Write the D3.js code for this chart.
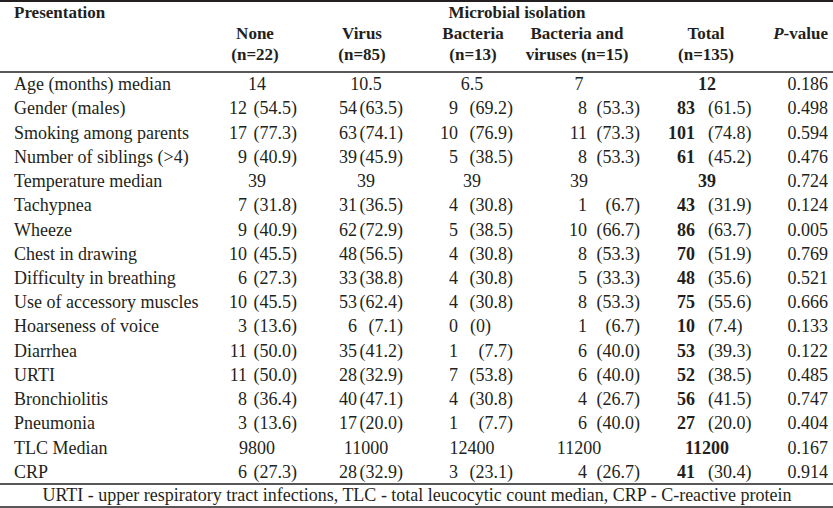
<!DOCTYPE html>
<html>
<head>
<meta charset="utf-8">
<script src="https://cdn.jsdelivr.net/npm/d3@7"></script>
<style>
  html, body { margin: 0; padding: 0; background: #fff; }
  svg { display: block; }
  text { font-family: "Liberation Serif", "Times New Roman", serif; fill: #231f20; }
</style>
</head>
<body>
<svg id="chart" width="833" height="508"></svg>
<script>
// ---------------- DATA ----------------
const rowLabels = [
  "Age (months) median", "Gender (males)", "Smoking among parents", "Number of siblings (>4)",
  "Temperature median", "Tachypnea", "Wheeze", "Chest in drawing", "Difficulty in breathing",
  "Use of accessory muscles", "Hoarseness of voice", "Diarrhea", "URTI", "Bronchiolitis",
  "Pneumonia", "TLC Median", "CRP"
];
// median rows have no percentage (null)
const noneN    = ["14", "12", "17", "9", "39", "7", "9", "10", "6", "10", "3", "11", "11", "8", "3", "9800", "6"];
const nonePct  = [null, "54.5", "77.3", "40.9", null, "31.8", "40.9", "45.5", "27.3", "45.5", "13.6", "50.0", "50.0", "36.4", "13.6", null, "27.3"];
const virusN   = ["10.5", "54", "63", "39", "39", "31", "62", "48", "33", "53", "6", "35", "28", "40", "17", "11000", "28"];
const virusPct = [null, "63.5", "74.1", "45.9", null, "36.5", "72.9", "56.5", "38.8", "62.4", "7.1", "41.2", "32.9", "47.1", "20.0", null, "32.9"];
const bactN    = ["6.5", "9", "10", "5", "39", "4", "5", "4", "4", "4", "0", "1", "7", "4", "1", "12400", "3"];
const bactPct  = [null, "69.2", "76.9", "38.5", null, "30.8", "38.5", "30.8", "30.8", "30.8", "0", "7.7", "53.8", "30.8", "7.7", null, "23.1"];
const bothN    = ["7", "8", "11", "8", "39", "1", "10", "8", "5", "8", "1", "6", "6", "4", "6", "11200", "4"];
const bothPct  = [null, "53.3", "73.3", "53.3", null, "6.7", "66.7", "53.3", "33.3", "53.3", "6.7", "40.0", "40.0", "26.7", "40.0", null, "26.7"];
const totalN   = ["12", "83", "101", "61", "39", "43", "86", "70", "48", "75", "10", "53", "52", "56", "27", "11200", "41"];
const totalPct = [null, "61.5", "74.8", "45.2", null, "31.9", "63.7", "51.9", "35.6", "55.6", "7.4", "39.3", "38.5", "41.5", "20.0", null, "30.4"];
const pValues  = ["0.186", "0.498", "0.594", "0.476", "0.724", "0.124", "0.005", "0.769", "0.521", "0.666", "0.133", "0.122", "0.485", "0.747", "0.404", "0.167", "0.914"];

const groupNames  = ["None", "Virus", "Bacteria", "Bacteria and", "Total"];
const groupSizes  = ["(n=22)", "(n=85)", "(n=13)", "viruses (n=15)", "(n=135)"];
const stubTitle   = "Presentation";
const spanTitle   = "Microbial isolation";
const footnote    = "URTI - upper respiratory tract infections, TLC - total leucocytic count median, CRP - C-reactive protein";

// ---------------- LAYOUT ----------------
const W = 833, H = 508;
const svg = d3.select("#chart");
const fs = 18, hfs = 17;

const groups = [
  { key: "none",  n: noneN,  pct: nonePct,  center: 257, countRight: 247, pctRight: 297, pctAlign: "end" },
  { key: "virus", n: virusN, pct: virusPct, center: 366, countRight: 357, pctRight: 403, pctAlign: "end" },
  { key: "bact",  n: bactN,  pct: bactPct,  center: 472, countRight: 458, pctRight: 513, pctAlign: "end" },
  { key: "both",  n: bothN,  pct: bothPct,  center: 579, countRight: 587, pctRight: 640, pctAlign: "end" },
  { key: "total", n: totalN, pct: totalPct, center: 707, countRight: 695, pctLeft: 708, pctAlign: "start", bold: true }
];
const headerCenters = [255, 362, 473, 577, 706];

const y = d3.scaleBand().domain(rowLabels).range([72, 484]).paddingInner(0).paddingOuter(0);
const base = d => y(d) + y.bandwidth() / 2 + 6;

// rules
const rules = [
  { y: 1, w: 2 }, { y: 72, w: 1.3 }, { y: 484, w: 1.3 }, { y: 507, w: 1.6 }
];
svg.selectAll("line.rule").data(rules).join("line")
  .attr("class", "rule")
  .attr("x1", 0).attr("x2", W)
  .attr("y1", d => d.y).attr("y2", d => d.y)
  .attr("stroke", "#231f20").attr("stroke-width", d => d.w);

// header
svg.append("text").attr("x", 14).attr("y", 18).attr("font-size", hfs).attr("font-weight", "bold").text(stubTitle);
svg.append("text").attr("x", 517).attr("y", 18).attr("font-size", hfs).attr("font-weight", "bold")
  .attr("text-anchor", "middle").text(spanTitle);
svg.selectAll("text.h1").data(groupNames).join("text").attr("class", "h1")
  .attr("x", (d, i) => headerCenters[i]).attr("y", 39).attr("font-size", hfs).attr("font-weight", "bold")
  .attr("text-anchor", "middle").text(d => d);
svg.selectAll("text.h2").data(groupSizes).join("text").attr("class", "h2")
  .attr("x", (d, i) => headerCenters[i]).attr("y", 60).attr("font-size", hfs).attr("font-weight", "bold")
  .attr("text-anchor", "middle").text(d => d);
const pv = svg.append("text").attr("x", 828).attr("y", 39).attr("font-size", hfs).attr("font-weight", "bold")
  .attr("text-anchor", "end");
pv.append("tspan").attr("font-style", "italic").text("P");
pv.append("tspan").text("-value");

// row labels
svg.selectAll("text.stub").data(rowLabels).join("text").attr("class", "stub")
  .attr("x", 14).attr("y", d => base(d)).attr("font-size", fs).text(d => d);

// group cells
groups.forEach(g => {
  const gg = svg.append("g").attr("font-size", fs).attr("font-weight", g.bold ? "bold" : null);
  rowLabels.forEach((lab, i) => {
    const yy = base(lab);
    if (g.pct[i] === null) {
      gg.append("text").attr("x", g.center).attr("y", yy).attr("text-anchor", "middle").text(g.n[i]);
    } else {
      gg.append("text").attr("x", g.countRight).attr("y", yy).attr("text-anchor", "end").text(g.n[i]);
      const p = "(" + g.pct[i] + ")";
      if (g.pctAlign === "start") {
        gg.append("text").attr("x", g.pctLeft).attr("y", yy).attr("font-weight", "normal").text(p);
      } else if (g.pct[i] === "0") {
        gg.append("text").attr("x", g.countRight + 12).attr("y", yy).text(p);
      } else {
        gg.append("text").attr("x", g.pctRight).attr("y", yy).attr("text-anchor", "end").text(p);
      }
    }
  });
});

// p-values
svg.selectAll("text.pv").data(rowLabels).join("text").attr("class", "pv")
  .attr("x", 828).attr("y", d => base(d)).attr("font-size", fs).attr("text-anchor", "end")
  .text((d, i) => pValues[i]);

// footnote
svg.append("text").attr("x", 417).attr("y", 501).attr("font-size", fs).attr("text-anchor", "middle").text(footnote);
</script>
</body>
</html>
